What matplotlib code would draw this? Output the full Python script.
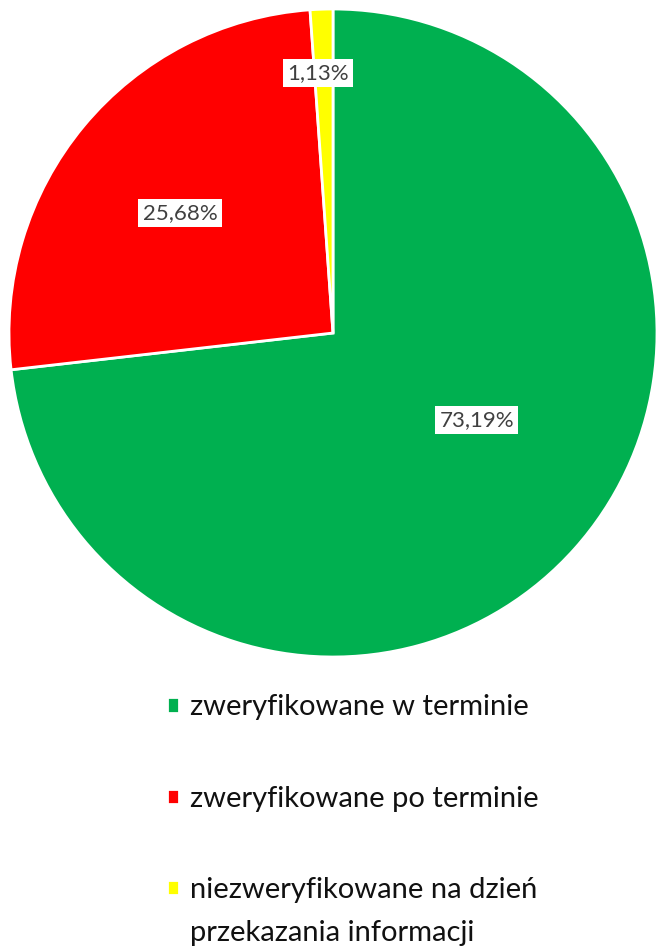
import matplotlib.pyplot as plt

plt.rcParams['font.family'] = ['Lato', 'DejaVu Sans']

# Data
labels = ["zweryfikowane w terminie",
          "zweryfikowane po terminie",
          "niezweryfikowane na dzień"]
extra_line = "przekazania informacji"
values = [73.19, 25.68, 1.13]
pct_text = ["73,19%", "25,68%", "1,13%"]
colors = ["#00B050", "#FF0000", "#FFFF00"]

# label offsets from centre, in radius units
label_pos = [(0.444, -0.269), (-0.472, 0.370), (-0.046, 0.802)]

fig = plt.figure(figsize=(6.56, 9.47), dpi=100)
ax = fig.add_axes([9 / 656, (947 - 657) / 947, 648 / 656, 648 / 947])

wedges, _ = ax.pie(values, colors=colors, startangle=90, counterclock=False,
                   wedgeprops=dict(edgecolor="white", linewidth=2))
ax.set_aspect("equal")
ax.set_xlim(-1, 1)
ax.set_ylim(-1, 1)

for txt, (x, y) in zip(pct_text, label_pos):
    ax.text(x, y, txt, ha="center", va="center", fontsize=16, color="#404040",
            bbox=dict(facecolor="white", edgecolor="none", pad=3))

leg = fig.legend(wedges, labels, loc="upper left", bbox_to_anchor=(167 / 656, 0.2667),
                 frameon=False, fontsize=21, handlelength=0.42, handleheight=0.42,
                 handletextpad=0.38, labelspacing=2.24, borderpad=0, borderaxespad=0)
for t in leg.get_texts():
    t.set_color("#111111")

# second line of the last legend entry
fig.canvas.draw()
last = leg.get_texts()[-1].get_window_extent()
fig.text(last.x0 / fig.bbox.width, (last.y0 + last.height / 2 - 43) / fig.bbox.height,
         extra_line, fontsize=21, color="#111111", ha="left", va="center")

fig.savefig("out.png", dpi=100)
